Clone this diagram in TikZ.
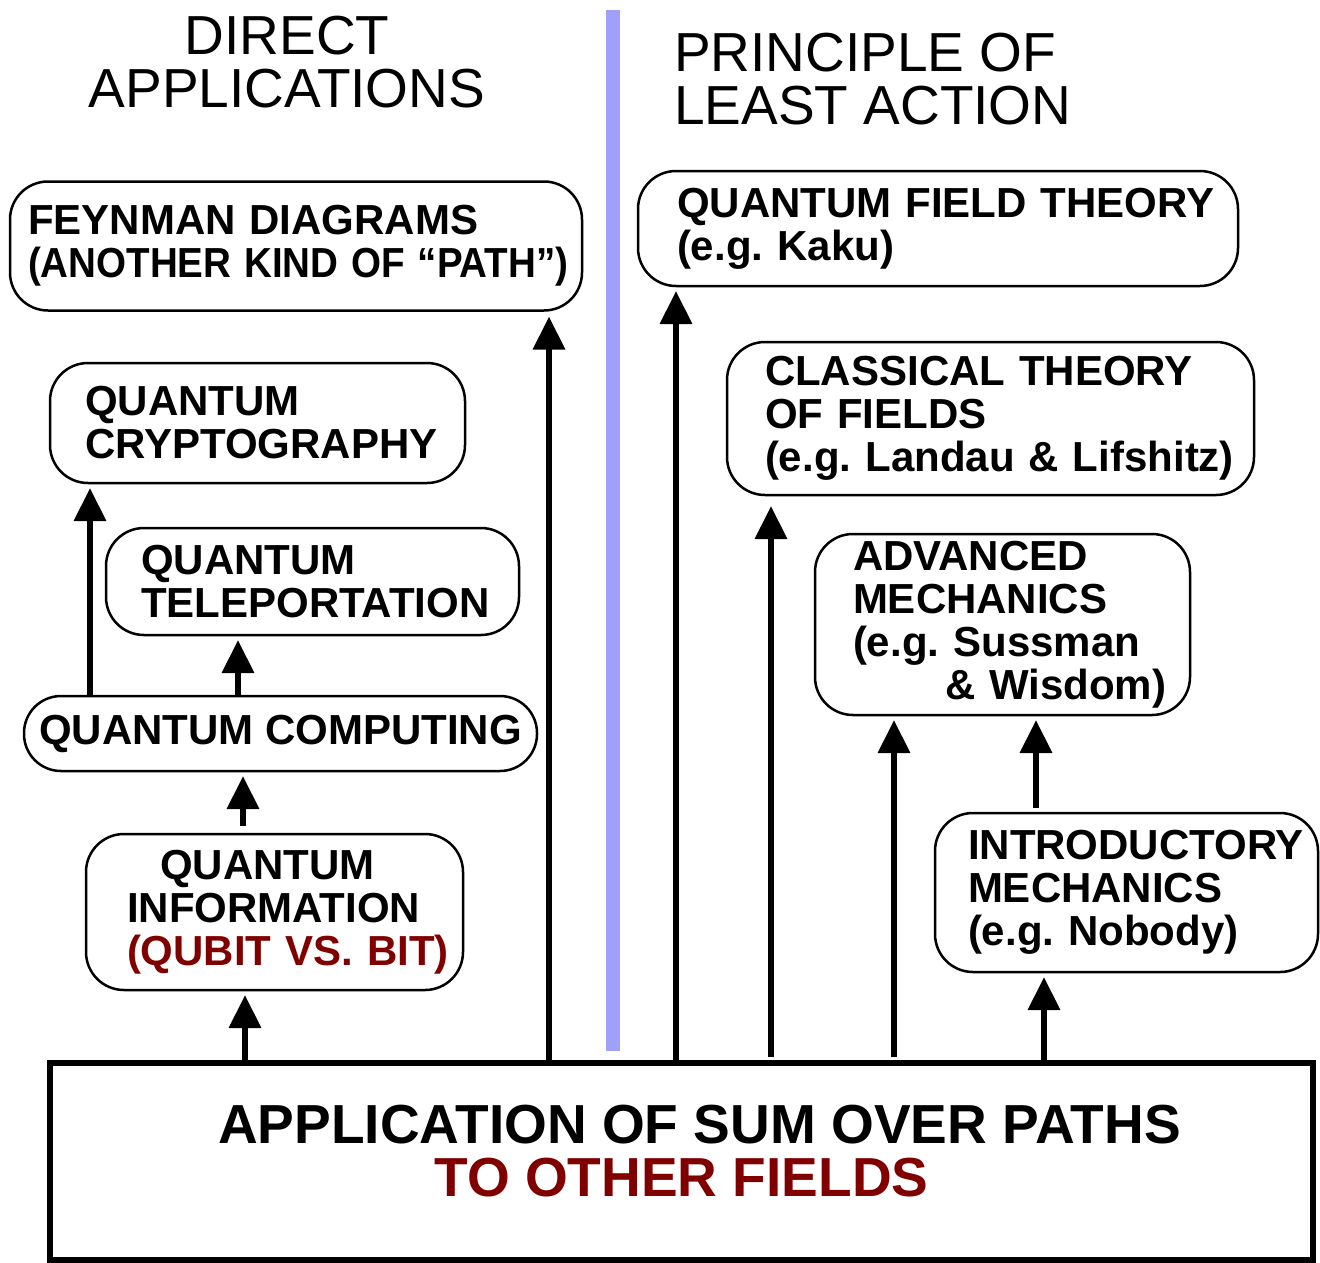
\documentclass[tikz,border=0pt]{standalone}
\usepackage{fontspec}
\usepackage{graphicx}
\setmainfont{Liberation Sans}
\usetikzlibrary{arrows.meta}
\definecolor{deepred}{RGB}{128,0,0}
\definecolor{dividerblue}{RGB}{160,160,248}
\newcommand\oneline[1]{\mbox{#1}}
\frenchspacing

\begin{document}
\begin{tikzpicture}[x=1pt,y=-1pt,
  topic/.style={draw, line width=2.5pt, rounded corners=38pt, inner sep=0pt, outer sep=0pt,
    font=\fontsize{42}{43}\selectfont\bfseries, align=left},
  link/.style={line width=6.5pt, -{Triangle[width=31pt,length=33pt]}},
  heading/.style={inner sep=0pt, font=\fontsize{55}{53}\selectfont}
]
\useasboundingbox (0,0) rectangle (1320,1262);

% column headings and divider
\node[heading, align=center, anchor=north] (hdirect) at (287,16) {DIRECT\\APPLICATIONS};
\node[heading, align=left, anchor=north west] (hleast) at (674,33) {PRINCIPLE OF\\LEAST ACTION};
\fill[dividerblue] (606,10) rectangle (620,1051);

% left column
\node[topic, minimum width=572pt, minimum height=129pt, text width=536pt] (feyn) at (296,246)
  {\oneline{FEYNMAN DIAGRAMS}\\\oneline{\scalebox{0.918}[1]{(ANOTHER KIND OF “PATH”)}}};
\node[topic, minimum width=415pt, minimum height=120pt, text width=345pt] (crypt) at (257.5,423)
  {\oneline{QUANTUM}\\\oneline{CRYPTOGRAPHY}};
\node[topic, minimum width=413pt, minimum height=107pt, text width=343pt] (tele) at (312.5,581.5)
  {\oneline{QUANTUM}\\\oneline{TELEPORTATION}};
\node[topic, rounded corners=37pt, align=center, minimum width=513pt, minimum height=75pt] (comp) at (280.5,733.5)
  {QUANTUM COMPUTING};
\node[topic, minimum width=377pt, minimum height=156pt, text width=295pt] (info) at (274.5,912)
  {\oneline{\hspace*{33pt}QUANTUM}\\\oneline{INFORMATION}\\\oneline{\color{deepred}(QUBIT VS. BIT)}};

% right column
\node[topic, minimum width=600pt, minimum height=115pt, text width=522pt] (qft) at (938,228.5)
  {\oneline{QUANTUM FIELD THEORY}\\\oneline{(e.g. Kaku)}};
\node[topic, minimum width=527pt, minimum height=153pt, text width=451pt] (clas) at (990.5,418.5)
  {\oneline{CLASSICAL THEORY}\\\oneline{OF FIELDS}\\\oneline{(e.g. Landau \& Lifshitz)}};
\node[topic, minimum width=375pt, minimum height=181pt, text width=299pt] (adv) at (1002.5,624.5)
  {\oneline{ADVANCED}\\\oneline{MECHANICS}\\\oneline{(e.g. Sussman}\\\oneline{\hspace*{92pt}\& Wisdom)}};
\node[topic, minimum width=383pt, minimum height=159pt, text width=317pt] (intro) at (1126.5,892.5)
  {\oneline{INTRODUCTORY}\\\oneline{MECHANICS}\\\oneline{(e.g. Nobody)}};

% common root
\node[draw, line width=6pt, inner sep=0pt, outer sep=0pt, minimum width=1263pt, minimum height=197pt,
  label={[inner sep=0pt, font=\fontsize{55}{53}\selectfont\bfseries, align=center, yshift=10pt]center:{\hspace*{36pt}APPLICATION OF SUM OVER PATHS\\{\color{deepred}TO OTHER FIELDS}}}]
  (base) at (681.5,1161.5) {};

% x positions of the vertical links
\coordinate (xa) at (90,0);
\coordinate (xb) at (238,0);
\coordinate (xc) at (243,0);
\coordinate (xd) at (245,0);
\coordinate (xe) at (549,0);
\coordinate (xf) at (676,0);
\coordinate (xg) at (771,0);
\coordinate (xh) at (894,0);
\coordinate (xi) at (1036,0);
\coordinate (xj) at (1044,0);

% links
\draw[link, shorten >=5pt] (base.north -| xd) -- (info.south -| xd);
\draw[link, shorten <=8pt, shorten >=5pt] (info.north -| xc) -- (comp.south -| xc);
\draw[link, shorten >=5pt] (comp.north -| xb) -- (tele.south -| xb);
\draw[link, shorten >=5pt] (comp.north -| xa) -- (crypt.south -| xa);
\draw[link, shorten >=6pt] (base.north -| xe) -- (feyn.south -| xe);
\draw[link, shorten >=5pt] (base.north -| xf) -- (qft.south -| xf);
\draw[link, shorten <=6pt, shorten >=11pt] (base.north -| xg) -- (clas.south -| xg);
\draw[link, shorten <=6pt, shorten >=5pt] (base.north -| xh) -- (adv.south -| xh);
\draw[link, shorten <=5pt, shorten >=5pt] (intro.north -| xi) -- (adv.south -| xi);
\draw[link, shorten >=5pt] (base.north -| xj) -- (intro.south -| xj);
\end{tikzpicture}
\end{document}
